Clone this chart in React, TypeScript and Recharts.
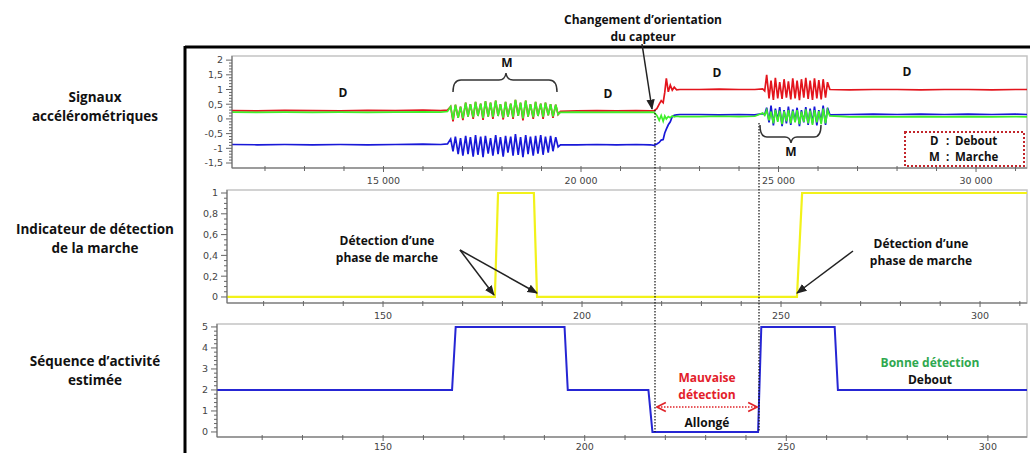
import React from "react";
import { LineChart, Line, XAxis, YAxis, ReferenceArea } from "recharts";

// Signaux accélérométriques : temps (échantillons) et axes x / y / z
const accTime = [
  // debout
  11165, 11800, 12500, 13200, 13900, 14600, 15300, 16000, 16450, 16620, 16700,
  // marche 1
  16760, 16820, 16890, 16950, 17010, 17080, 17140, 17200, 17270, 17330, 17390,
  17460, 17520, 17580, 17650, 17710, 17770, 17840, 17900, 17960, 18030, 18090,
  18150, 18220, 18280, 18340, 18410, 18470, 18530, 18600, 18660, 18720, 18790,
  18850, 18910, 18980, 19040, 19100, 19170, 19230, 19290, 19360, 19420,
  // debout
  19480, 19900, 20400, 20900, 21400, 21750, 21850,
  // changement d'orientation
  21920, 21980, 22030, 22080, 22120, 22160, 22210, 22260, 22310, 22360, 22420, 22500,
  // debout
  23000, 23500, 24000, 24400, 24600,
  // marche 2
  24650, 24700, 24760, 24810, 24870, 24920, 24980, 25030, 25090, 25140, 25200,
  25250, 25310, 25360, 25420, 25470, 25530, 25580, 25640, 25690, 25750, 25800,
  25860, 25910, 25970, 26020, 26080, 26130, 26190, 26240,
  // debout
  26300, 26800, 27400, 28000, 28600, 29200, 29800, 30400, 31000, 31290,
];

const accRed = [
  0.28, 0.27, 0.29, 0.28, 0.27, 0.29, 0.28, 0.3, 0.28, 0.3, 0.42,
  -0.08, 0.48, 0.04, 0.42, -0.04, 0.55, 0.08, 0.5, 0.0, 0.58, 0.1,
  0.52, -0.03, 0.6, 0.08, 0.55, 0.0, 0.62, 0.1, 0.5, -0.02, 0.58,
  0.08, 0.52, 0.0, 0.65, 0.1, 0.55, -0.05, 0.62, 0.08, 0.5, 0.0,
  0.58, 0.1, 0.52, 0.0, 0.55, 0.12, 0.5, 0.04, 0.48, 0.15,
  0.26, 0.27, 0.28, 0.27, 0.28, 0.27, 0.28,
  0.35, 0.5, 0.62, 0.55, 0.9, 1.38, 0.92, 1.15, 0.98, 1.08, 0.99, 1.0,
  1.0, 1.01, 1.0, 1.0, 1.02,
  0.95, 1.5, 0.7, 1.3, 0.65, 1.4, 0.7, 1.25, 0.68, 1.35, 0.72,
  1.28, 0.66, 1.38, 0.7, 1.3, 0.64, 1.35, 0.72, 1.4, 0.68, 1.3,
  0.65, 1.38, 0.7, 1.32, 0.66, 1.35, 0.72, 1.25,
  1.0, 0.99, 1.0, 1.0, 0.99, 1.0, 1.0, 0.99, 1.0, 1.0,
];

const accGreen = [
  0.23, 0.22, 0.23, 0.22, 0.23, 0.22, 0.23, 0.24, 0.23, 0.25, 0.42,
  -0.02, 0.48, 0.04, 0.42, 0.02, 0.55, 0.08, 0.5, 0.05, 0.58, 0.1,
  0.52, 0.03, 0.6, 0.08, 0.55, 0.06, 0.62, 0.1, 0.5, 0.04, 0.58,
  0.08, 0.52, 0.05, 0.65, 0.1, 0.55, 0.02, 0.62, 0.08, 0.5, 0.05,
  0.58, 0.1, 0.52, 0.06, 0.55, 0.12, 0.5, 0.08, 0.48, 0.15,
  0.22, 0.23, 0.22, 0.23, 0.22, 0.23, 0.22,
  0.12, -0.05, 0.12, -0.08, 0.1, 0.0, 0.08, 0.04, 0.1, 0.07, 0.09, 0.08,
  0.08, 0.09, 0.08, 0.09, 0.2,
  0.12, 0.3, -0.05, 0.25, -0.15, 0.3, -0.1, 0.28, -0.18, 0.26, -0.08,
  0.3, -0.15, 0.27, -0.12, 0.3, -0.18, 0.25, -0.1, 0.32, -0.15, 0.28,
  -0.2, 0.3, -0.12, 0.26, -0.18, 0.35, -0.15, 0.3,
  0.1, 0.07, 0.08, 0.07, 0.08, 0.07, 0.08, 0.07, 0.08, 0.07,
];

const accBlue = [
  -0.87, -0.88, -0.87, -0.88, -0.87, -0.88, -0.87, -0.86, -0.87, -0.85, -0.68,
  -1.1, -0.6, -1.2, -0.65, -1.25, -0.58, -1.2, -0.62, -1.28, -0.55, -1.22,
  -0.6, -1.3, -0.58, -1.18, -0.65, -1.25, -0.55, -1.2, -0.62, -1.28, -0.58,
  -1.15, -0.6, -1.25, -0.52, -1.22, -0.62, -1.3, -0.55, -1.2, -0.6, -1.25,
  -0.58, -1.18, -0.55, -1.22, -0.6, -1.15, -0.58, -1.1, -0.62, -0.95,
  -0.88, -0.88, -0.87, -0.88, -0.87, -0.88, -0.9,
  -0.85, -0.8, -0.72, -0.7, -0.48, -0.35, -0.2, -0.1, 0.08, 0.12, 0.14, 0.15,
  0.15, 0.14, 0.15, 0.14, 0.18,
  0.15, 0.38, -0.12, 0.45, -0.22, 0.35, -0.05, 0.4, -0.25, 0.3, -0.15,
  0.42, -0.2, 0.32, -0.08, 0.38, -0.25, 0.3, -0.12, 0.4, -0.2, 0.35,
  -0.15, 0.42, -0.22, 0.3, -0.1, 0.45, -0.2, 0.38,
  0.14, 0.15, 0.16, 0.15, 0.16, 0.15, 0.16, 0.15, 0.16, 0.15,
];

// Indicateur de détection de la marche
const walkTime = [110.8, 178.1, 178.9, 187.9, 188.7, 254.0, 255.3, 311.8];
const walkFlag = [0, 0, 1, 1, 0, 0, 1, 1];

// Séquence d'activité estimée
const seqTime = [108.8, 167.1, 168.0, 195.0, 195.8, 215.8, 216.8, 243.0, 243.8, 262.0, 262.8, 309.7];
const seqState = [2, 2, 5, 5, 2, 2, 0, 0, 5, 5, 2, 2];

// graduations
const accYMajor = [-1.5, -1, -0.5, 0, 0.5, 1, 1.5, 2];
const accXMajor = [15000, 20000, 25000, 30000];
const walkYMajor = [0, 0.2, 0.4, 0.6, 0.8, 1];
const seqYMajor = [0, 1, 2, 3, 4, 5];
const idxXMajor = [150, 200, 250, 300];

const range = (from: number, to: number, step: number) => {
  const out: number[] = [];
  for (let v = from; v <= to + step / 1000; v += step) out.push(Number(v.toFixed(4)));
  return out;
};

const accRows = accTime.map((t, i) => ({ t, red: accRed[i], green: accGreen[i], blue: accBlue[i] }));
const walkRows = walkTime.map((t, i) => ({ t, v: walkFlag[i] }));
const seqRows = seqTime.map((t, i) => ({ t, v: seqState[i] }));

const TICK_FONT = "'DejaVu Sans', Verdana, sans-serif";
const NOTE_FONT = "'Open Sans', Lato, sans-serif";

const comma = (v: number) => String(v).replace(".", ",");
const thousands = (v: number) => String(v).replace(/\B(?=(\d{3})+(?!\d))/g, " ");

const YTick = ({ x, y, payload, majors, fmt }: any) => {
  const v = payload.value;
  const isMajor = majors.some((m: number) => Math.abs(m - v) < 1e-6);
  return (
    <g>
      <line x1={x - (isMajor ? 6 : 3)} x2={x} y1={y} y2={y} stroke="#666" strokeWidth={1} />
      {isMajor && (
        <text x={x - 9} y={y} dy="0.35em" textAnchor="end" fontSize={9.5} fill="#444" fontFamily={TICK_FONT}>
          {fmt(v)}
        </text>
      )}
    </g>
  );
};

const XTick = ({ x, y, payload, majors, fmt, labelDy = 16 }: any) => {
  const v = payload.value;
  const isMajor = majors.some((m: number) => Math.abs(m - v) < 1e-6);
  return (
    <g>
      <line x1={x} x2={x} y1={y - 2} y2={y + (isMajor ? 4 : 3)} stroke="#666" strokeWidth={1} />
      {isMajor && (
        <text x={x} y={y + labelDy} textAnchor="middle" fontSize={9.5} fill="#444" fontFamily={TICK_FONT}>
          {fmt(v)}
        </text>
      )}
    </g>
  );
};

const boxStroke = "#c4c4c4";

function AccChart() {
  const xDom: [number, number] = [11165, 31290];
  const yDom: [number, number] = [-1.67, 2.14];
  return (
    <LineChart width={1030} height={190} data={accRows} margin={{ top: 56, right: 3, bottom: 2, left: 192 }}>
      <ReferenceArea x1={xDom[0]} x2={xDom[1]} y1={yDom[0]} y2={yDom[1]} fill="#fff" fillOpacity={0} stroke={boxStroke} strokeWidth={1.5} ifOverflow="visible" />
      <XAxis dataKey="t" type="number" domain={xDom} allowDataOverflow ticks={range(12000, 31000, 1000)} interval={0} height={20} tickSize={0} tickMargin={0} axisLine={{ stroke: "#666" }} tick={(p: any) => <XTick {...p} majors={accXMajor} fmt={thousands} />} />
      <YAxis type="number" domain={yDom} allowDataOverflow ticks={range(-1.5, 2, 0.1)} interval={0} width={40} tickSize={0} tickMargin={0} axisLine={{ stroke: "#666" }} tick={(p: any) => <YTick {...p} majors={accYMajor} fmt={comma} />} />
      <Line dataKey="red" stroke="#e3141c" strokeWidth={1.7} dot={false} isAnimationActive={false} />
      <Line dataKey="blue" stroke="#1818d8" strokeWidth={1.7} dot={false} isAnimationActive={false} />
      <Line dataKey="green" stroke="#3ef02a" strokeWidth={1.7} dot={false} isAnimationActive={false} />
    </LineChart>
  );
}

function WalkChart() {
  const xDom: [number, number] = [110.8, 311.8];
  const yDom: [number, number] = [-0.058, 1.029];
  return (
    <LineChart width={1030} height={145} data={walkRows} margin={{ top: 10, right: 3, bottom: 2, left: 187 }}>
      <ReferenceArea x1={xDom[0]} x2={xDom[1]} y1={yDom[0]} y2={yDom[1]} fill="#fff" fillOpacity={0} stroke={boxStroke} strokeWidth={1.5} ifOverflow="visible" />
      <XAxis dataKey="t" type="number" domain={xDom} allowDataOverflow ticks={range(120, 310, 10)} interval={0} height={20} tickSize={0} tickMargin={0} axisLine={{ stroke: "#666" }} tick={(p: any) => <XTick {...p} majors={idxXMajor} fmt={String} />} />
      <YAxis type="number" domain={yDom} allowDataOverflow ticks={range(0, 1, 0.05)} interval={0} width={40} tickSize={0} tickMargin={0} axisLine={{ stroke: "#666" }} tick={(p: any) => <YTick {...p} majors={walkYMajor} fmt={comma} />} />
      <Line dataKey="v" stroke="#f2f21a" strokeWidth={2.2} dot={false} isAnimationActive={false} />
    </LineChart>
  );
}

function SeqChart() {
  const xDom: [number, number] = [108.8, 309.7];
  const yDom: [number, number] = [-0.24, 5.14];
  return (
    <LineChart width={1030} height={141} data={seqRows} margin={{ top: 12, right: 3, bottom: 0, left: 177 }}>
      <ReferenceArea x1={xDom[0]} x2={xDom[1]} y1={yDom[0]} y2={yDom[1]} fill="#fff" fillOpacity={0} stroke={boxStroke} strokeWidth={1.5} ifOverflow="visible" />
      <XAxis dataKey="t" type="number" domain={xDom} allowDataOverflow ticks={range(120, 300, 10)} interval={0} height={16} tickSize={0} tickMargin={0} axisLine={{ stroke: "#666" }} tick={(p: any) => <XTick {...p} majors={idxXMajor} fmt={String} labelDy={13} />} />
      <YAxis type="number" domain={yDom} allowDataOverflow ticks={range(0, 5, 0.2)} interval={0} width={40} tickSize={0} tickMargin={0} axisLine={{ stroke: "#666" }} tick={(p: any) => <YTick {...p} majors={seqYMajor} fmt={String} />} />
      <Line dataKey="v" stroke="#2626d4" strokeWidth={2} dot={false} isAnimationActive={false} />
    </LineChart>
  );
}

// texte annoté sur une ou deux lignes ; l'interligne suit la hauteur de la police
const Note = ({ x, y, lines, size = 12, color = "#111", anchor = "middle" }: any) => {
  const gap = Math.ceil(size * 1.37);
  const top = y - ((lines.length - 1) * (gap - 14)) / 2;
  return (
    <text x={x} y={top} textAnchor={anchor} fontSize={size} fontWeight={700} fill={color} fontFamily={NOTE_FONT}>
      {(lines as string[]).map((s, i) => (
        <tspan key={i} x={x} dy={i === 0 ? "0.35em" : gap}>
          {s}
        </tspan>
      ))}
    </text>
  );
};

function Overlay() {
  return (
    <svg width={1030} height={453} style={{ position: "absolute", left: 0, top: 0, pointerEvents: "none" }}>
      <defs>
        <marker id="head" viewBox="0 0 10 10" refX="9" refY="5" markerWidth="7" markerHeight="7" orient="auto-start-reverse">
          <path d="M0,1 L10,5 L0,9 z" fill="#222" />
        </marker>
        <marker id="redHead" viewBox="0 0 10 10" refX="8" refY="5" markerWidth="7" markerHeight="7" orient="auto-start-reverse">
          <path d="M1,1 L9,5 L1,9" fill="none" stroke="#e0242a" strokeWidth={1.6} />
        </marker>
      </defs>

      {/* cadre */}
      <line x1={185} y1={47} x2={1030} y2={47} stroke="#000" strokeWidth={3} />
      <line x1={185} y1={46} x2={185} y2={453} stroke="#000" strokeWidth={3} />

      {/* libellés de gauche */}
      <Note x={95} y={100} size={13.5} lines={["Signaux", "accélérométriques"]} />
      <Note x={95} y={232} size={13.5} lines={["Indicateur de détection", "de la marche"]} />
      <Note x={95} y={364} size={13.5} lines={["Séquence d’activité", "estimée"]} />

      {/* changement d'orientation */}
      <Note x={643} y={21} lines={["Changement d’orientation", "du capteur"]} />
      <line x1={642} y1={44} x2={652} y2={109} stroke="#222" strokeWidth={1.5} markerEnd="url(#head)" />
      <line x1={655} y1={110} x2={655} y2={432} stroke="#111" strokeWidth={1.2} strokeDasharray="1.5 1.5" />
      <line x1={759} y1={123} x2={759} y2={432} stroke="#111" strokeWidth={1.2} strokeDasharray="1.5 1.5" />

      {/* signaux : D / M */}
      <Note x={343} y={93} lines={["D"]} />
      <Note x={608} y={94} lines={["D"]} />
      <Note x={717} y={73} lines={["D"]} />
      <Note x={907} y={72} lines={["D"]} />
      <Note x={507} y={63} lines={["M"]} />
      <path d="M453,92 Q453,80 461,80 L499,80 Q505,80 506,73 Q507,80 513,80 L549,80 Q557,80 557,92" fill="none" stroke="#333" strokeWidth={1.5} />
      <Note x={791} y={152} lines={["M"]} />
      <path d="M760,125 Q760,137 767,137 L785,137 Q790,137 791,143 Q792,137 797,137 L814,137 Q821,137 821,125" fill="none" stroke="#333" strokeWidth={1.5} />
      <rect x={905} y={132} width={119} height={34} fill="#fff" stroke="#c2262c" strokeWidth={2} strokeDasharray="2 2" />
      <text fontSize={11.5} fontWeight={700} fill="#111" fontFamily={NOTE_FONT}>
        <tspan x={930} y={141} dy="0.35em">D</tspan>
        <tspan x={946} y={141} dy="0.35em">:</tspan>
        <tspan x={955} y={141} dy="0.35em">Debout</tspan>
      </text>
      <text fontSize={11.5} fontWeight={700} fill="#111" fontFamily={NOTE_FONT}>
        <tspan x={929} y={157} dy="0.35em">M</tspan>
        <tspan x={946} y={157} dy="0.35em">:</tspan>
        <tspan x={955} y={157} dy="0.35em">Marche</tspan>
      </text>

      {/* indicateur */}
      <Note x={387} y={242} lines={["Détection d’une", "phase de marche"]} />
      <line x1={460} y1={250} x2={494} y2={295} stroke="#222" strokeWidth={1.5} markerEnd="url(#head)" />
      <line x1={460} y1={250} x2={537} y2={293} stroke="#222" strokeWidth={1.5} markerEnd="url(#head)" />
      <Note x={921} y={245} lines={["Détection d’une", "phase de marche"]} />
      <line x1={853} y1={251} x2={797} y2={293} stroke="#222" strokeWidth={1.5} markerEnd="url(#head)" />

      {/* séquence */}
      <Note x={707} y={379} color="#e3202a" lines={["Mauvaise", "détection"]} />
      <line x1={658} y1={407} x2={756} y2={407} stroke="#e0242a" strokeWidth={1.6} strokeDasharray="1.5 1.5" markerStart="url(#redHead)" markerEnd="url(#redHead)" />
      <Note x={707} y={423} lines={["Allongé"]} />
      <Note x={930} y={363} color="#2fa84f" lines={["Bonne détection"]} />
      <Note x={930} y={380} lines={["Debout"]} />
    </svg>
  );
}

export default function App() {
  return (
    <div style={{ position: "absolute", left: 0, top: 0, width: 1030, height: 453, background: "#fff", overflow: "hidden" }}>
      <div style={{ position: "absolute", left: 0, top: 0 }}>
        <AccChart />
      </div>
      <div style={{ position: "absolute", left: 0, top: 180 }}>
        <WalkChart />
      </div>
      <div style={{ position: "absolute", left: 0, top: 312 }}>
        <SeqChart />
      </div>
      <Overlay />
    </div>
  );
}
